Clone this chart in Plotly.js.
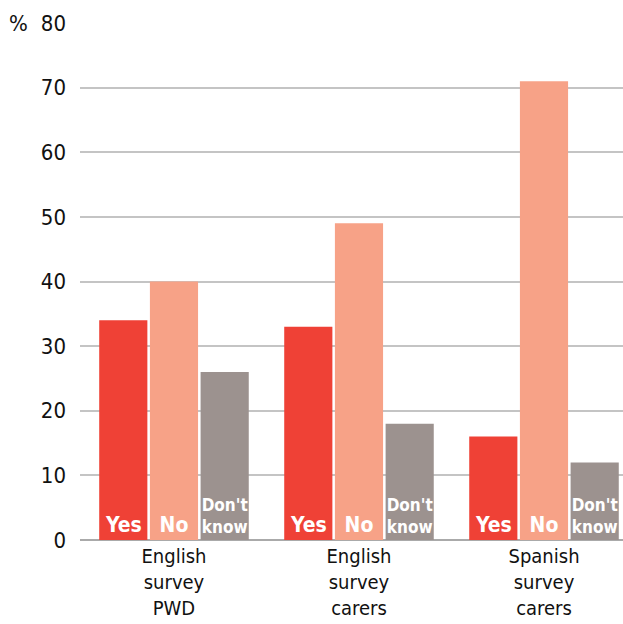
<!DOCTYPE html>
<html>
<head>
<meta charset="utf-8">
<script src="https://cdn.plot.ly/plotly-3.0.1.min.js"></script>
<style>html,body{margin:0;padding:0;background:#fff;}#chart{width:623px;height:624px;}</style>
</head>
<body>
<div id="chart"></div>
<script>
const categories = ["English<br>survey<br>PWD", "English<br>survey<br>carers", "Spanish<br>survey<br>carers"];
const yesValues = [34, 33, 16];
const noValues = [40, 49, 71];
const dontKnowValues = [26, 18, 12];
const seriesNames = ["Yes", "No", "Don't know"];
const barLabels = ["Yes", "No", "Don't<br>know"];
const yTicks = [0, 10, 20, 30, 40, 50, 60, 70, 80];

const FONT = "'Liberation Sans Narrow', 'DejaVu Sans Condensed', 'Arial Narrow', sans-serif";
const colors = ["#EF4136", "#F7A287", "#9C928F"];
const valuesList = [yesValues, noValues, dontKnowValues];
const labelSizes = [21, 21, 17];

const traces = valuesList.map((vals, i) => ({
  type: "bar",
  name: seriesNames[i],
  x: [0, 1, 2],
  y: vals,
  marker: {color: colors[i]},
  text: vals.map(() => barLabels[i]),
  texttemplate: "<b>%{text}</b>",
  textposition: "inside",
  insidetextanchor: "start",
  textangle: 0,
  constraintext: "none",
  insidetextfont: {family: FONT, size: labelSizes[i], color: "#ffffff"},
  hoverinfo: "none"
}));

const layout = {
  width: 623, height: 624,
  margin: {l: 80, r: 0, t: 23, b: 83.5, pad: 0},
  paper_bgcolor: "#ffffff", plot_bgcolor: "#ffffff",
  showlegend: false,
  barmode: "group",
  bargap: 0.178,
  bargroupgap: 0.05,
  font: {family: FONT, size: 20, color: "#111111"},
  xaxis: {
    range: [-0.508, 2.427],
    tickmode: "array",
    tickvals: [0, 1, 2],
    ticktext: categories,
    showgrid: false, zeroline: false,
    showline: false,
    ticks: "",
    ticklabelstandoff: 2,
    tickfont: {family: FONT, size: 20, color: "#111111"}
  },
  yaxis: {
    range: [0, 80],
    tickmode: "array",
    tickvals: yTicks,
    ticktext: yTicks.map(String),
    showgrid: true, gridcolor: "#C4C4C4", gridwidth: 2,
    zeroline: true, zerolinecolor: "#AAAAAA", zerolinewidth: 2.5,
    ticks: "",
    ticklabelstandoff: 13,
    tickfont: {family: FONT, size: 22, color: "#111111"}
  },
  annotations: [{
    text: "%", xref: "paper", yref: "y", x: 0, y: 80,
    xshift: -62, xanchor: "center", yanchor: "middle",
    showarrow: false, font: {family: FONT, size: 22, color: "#111111"}
  }]
};

Plotly.newPlot("chart", traces, layout, {displayModeBar: false, staticPlot: true});
</script>
</body>
</html>
